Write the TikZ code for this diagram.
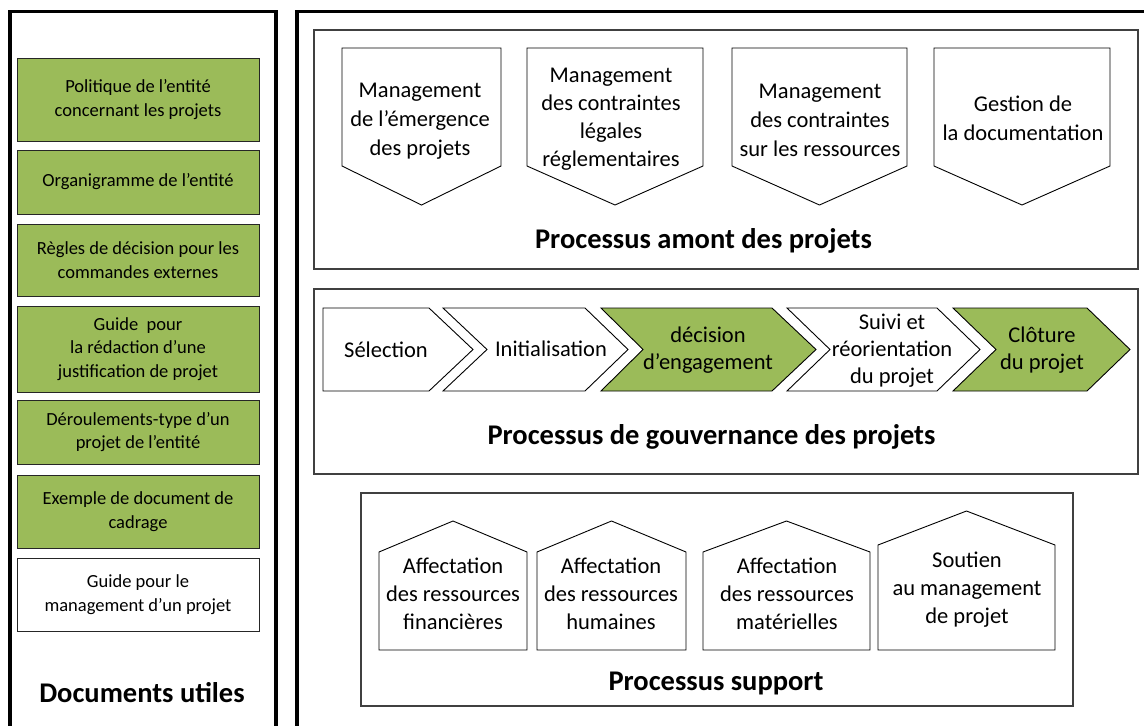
\documentclass[tikz,border=0pt]{standalone}
\usepackage{fontspec}
\setmainfont{Carlito}
\definecolor{vert}{HTML}{9BBB59}
\definecolor{cadre}{HTML}{404040}
\begin{document}
\begin{tikzpicture}[x=1pt,y=-1pt,
  panel/.style={line width=3.4pt,draw=black},
  section/.style={draw=cadre,line width=1.2pt},
  docbox/.style={draw=black!85,line width=0.9pt,minimum width=242pt,align=center,inner sep=0pt,
    font=\fontsize{18.5}{23.5}\selectfont},
  shp/.style={draw=black,line width=0.9pt,line join=miter},
  lbl/.style={align=center,inner sep=0pt,font=\fontsize{22.5}{28}\selectfont},
  lblt/.style={align=center,inner sep=0pt,font=\fontsize{22.5}{29}\selectfont},
  lblm/.style={align=center,inner sep=0pt,font=\fontsize{22.5}{27}\selectfont},
  ttl/.style={inner sep=0pt,font=\bfseries\fontsize{28.5}{34}\selectfont}]
\useasboundingbox (0,0) rectangle (1144,726);
\clip (0,0) rectangle (1144,726);
\fill[white] (0,0) rectangle (1144,726);
% panels
\draw[panel] (10,11.5) rectangle (276,760);
\draw[panel] (297,11.5) rectangle (1170,760);
% left documents
\node[docbox,fill=vert,minimum height=83pt] (d1) at (138,99.5) {Politique de l’entité\\concernant les projets};
\node[docbox,fill=vert,minimum height=64pt] (d2) at (138,182) {Organigramme de l’entité};
\node[docbox,fill=vert,minimum height=72pt] (d3) at (138,260) {Règles de décision pour les\\commandes externes};
\node[docbox,fill=vert,minimum height=86pt] (d4) at (138,349) {Guide\ \ pour\\la rédaction d’une\\justification de projet};
\node[docbox,fill=vert,minimum height=64pt] (d5) at (138,432) {Déroulements-type d’un\\projet de l’entité};
\node[docbox,fill=vert,minimum height=73pt] (d6) at (138,511.5) {Exemple de document de\\cadrage};
\node[docbox,fill=white,minimum height=73pt] (d7) at (138,594.5) {Guide pour le\\management d’un projet};
\node[ttl] (tdoc) at (142,693) {Documents utiles};
% section amont
\draw[section] (314,30) rectangle (1138,269);
\draw[shp] (342,48) -- (501,48) -- (501,166) -- (421.5,205) -- (342,166) -- cycle;
\draw[shp] (527,48) -- (703,48) -- (703,166) -- (615,205) -- (527,166) -- cycle;
\draw[shp] (732,48) -- (907,48) -- (907,166) -- (819.5,205) -- (732,166) -- cycle;
\draw[shp] (934,48) -- (1110,48) -- (1110,166) -- (1022,205) -- (934,166) -- cycle;
\node[lblt] (a1) at (420,121) {Management\\de l’émergence\\des projets};
\node[lbl] (a2) at (611,119) {Management\\des contraintes\\légales\\réglementaires};
\node[lblt] (a3) at (820,120) {Management\\des contraintes\\sur les ressources};
\node[lblt] (a4) at (1023,118) {Gestion de\\la documentation};
\node[ttl] (tamont) at (703.5,241) {Processus amont des projets};
% section gouvernance
\draw[section] (314,289) rectangle (1138,474);
\draw[shp] (323,308) -- (429,308) -- (473,349.5) -- (429,391) -- (323,391) -- cycle;
\draw[shp] (443,308) -- (585,308) -- (628,349.5) -- (585,391) -- (443,391) -- (487,349.5) -- cycle;
\draw[shp,fill=vert] (601,308) -- (772,308) -- (816,349.5) -- (772,391) -- (601,391) -- (643,349.5) -- cycle;
\draw[shp] (787,308) -- (937,308) -- (980,349.5) -- (937,391) -- (787,391) -- (830,349.5) -- cycle;
\draw[shp,fill=vert] (953,308) -- (1087,308) -- (1130,349.5) -- (1087,391) -- (953,391) -- (996,349.5) -- cycle;
\node[lblm] (g1) at (386,350) {Sélection};
\node[lblm] (g2) at (551,349) {Initialisation};
\node[lblm] (g3) at (708,350) {décision\\d’engagement};
\node[lblm] (g4) at (892,351) {Suivi et\\réorientation\\du projet};
\node[lblm] (g5) at (1042,350) {Clôture\\du projet};
\node[ttl] (tgouv) at (711.5,437) {Processus de gouvernance des projets};
% section support
\draw[section] (361,493) rectangle (1073,706);
\draw[shp] (379,650) -- (379,552) -- (453,521) -- (527,552) -- (527,650) -- cycle;
\draw[shp] (537,650) -- (537,552) -- (611.5,521) -- (686,552) -- (686,650) -- cycle;
\draw[shp] (703,650) -- (703,552) -- (786.5,521) -- (870,552) -- (870,650) -- cycle;
\draw[shp] (878,650) -- (878,545) -- (966.5,511) -- (1055,545) -- (1055,650) -- cycle;
\node[lbl] (s1) at (453,594) {Affectation\\des ressources\\financières};
\node[lbl] (s2) at (611,594) {Affectation\\des ressources\\humaines};
\node[lbl] (s3) at (787,594) {Affectation\\des ressources\\matérielles};
\node[lbl] (s4) at (967,590) {Soutien\\au management\\de projet};
\node[ttl] (tsup) at (716,683) {Processus support};
\end{tikzpicture}
\end{document}
